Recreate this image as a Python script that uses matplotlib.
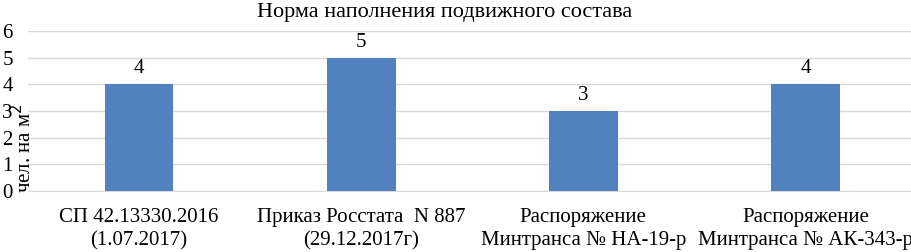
import matplotlib.pyplot as plt

categories = ["СП 42.13330.2016\n(1.07.2017)",
              "Приказ Росстата  N 887\n(29.12.2017г)",
              "Распоряжение\nМинтранса № НА-19-р",
              "Распоряжение\nМинтранса № АК-343-р"]
values = [4, 5, 3, 4]
yticks = [0, 1, 2, 3, 4, 5, 6]

plt.rcParams['font.family'] = ['Liberation Serif', 'DejaVu Serif']

fig = plt.figure(figsize=(9.12, 2.52), dpi=100)
ax = fig.add_axes([28/912, 1-191/252, 884/912, 160/252])

x = range(len(values))
bars = ax.bar(x, values, width=0.31, color="#5181be", zorder=3)
for xi, v in zip(x, values):
    ax.text(xi, v + 0.22, str(v), ha="center", va="bottom", fontsize=15)

ax.set_xlim(-0.5, 3.48)
ax.set_ylim(0, 6)
ax.set_yticks(yticks)
ax.set_yticklabels([str(t) for t in yticks], fontsize=15)
ax.set_xticks(list(x))
ax.set_xticklabels(categories, fontsize=15, linespacing=1.3)
ax.tick_params(axis="both", length=0)
ax.tick_params(axis="y", pad=11)
ax.tick_params(axis="x", pad=12)
ax.grid(axis="y", color="#d9d9d9", linewidth=1, zorder=0)
for s in ["top", "right", "left"]:
    ax.spines[s].set_visible(False)
ax.spines["bottom"].set_color("#d9d9d9")

fig.text(24/912, 1-148/252, "чел. на м$^2$", rotation=90, ha="center", va="center", fontsize=15)
fig.text(445/912, 1-12/252, "Норма наполнения подвижного состава", ha="center", va="center", fontsize=16)

fig.savefig("out.png", dpi=100)
